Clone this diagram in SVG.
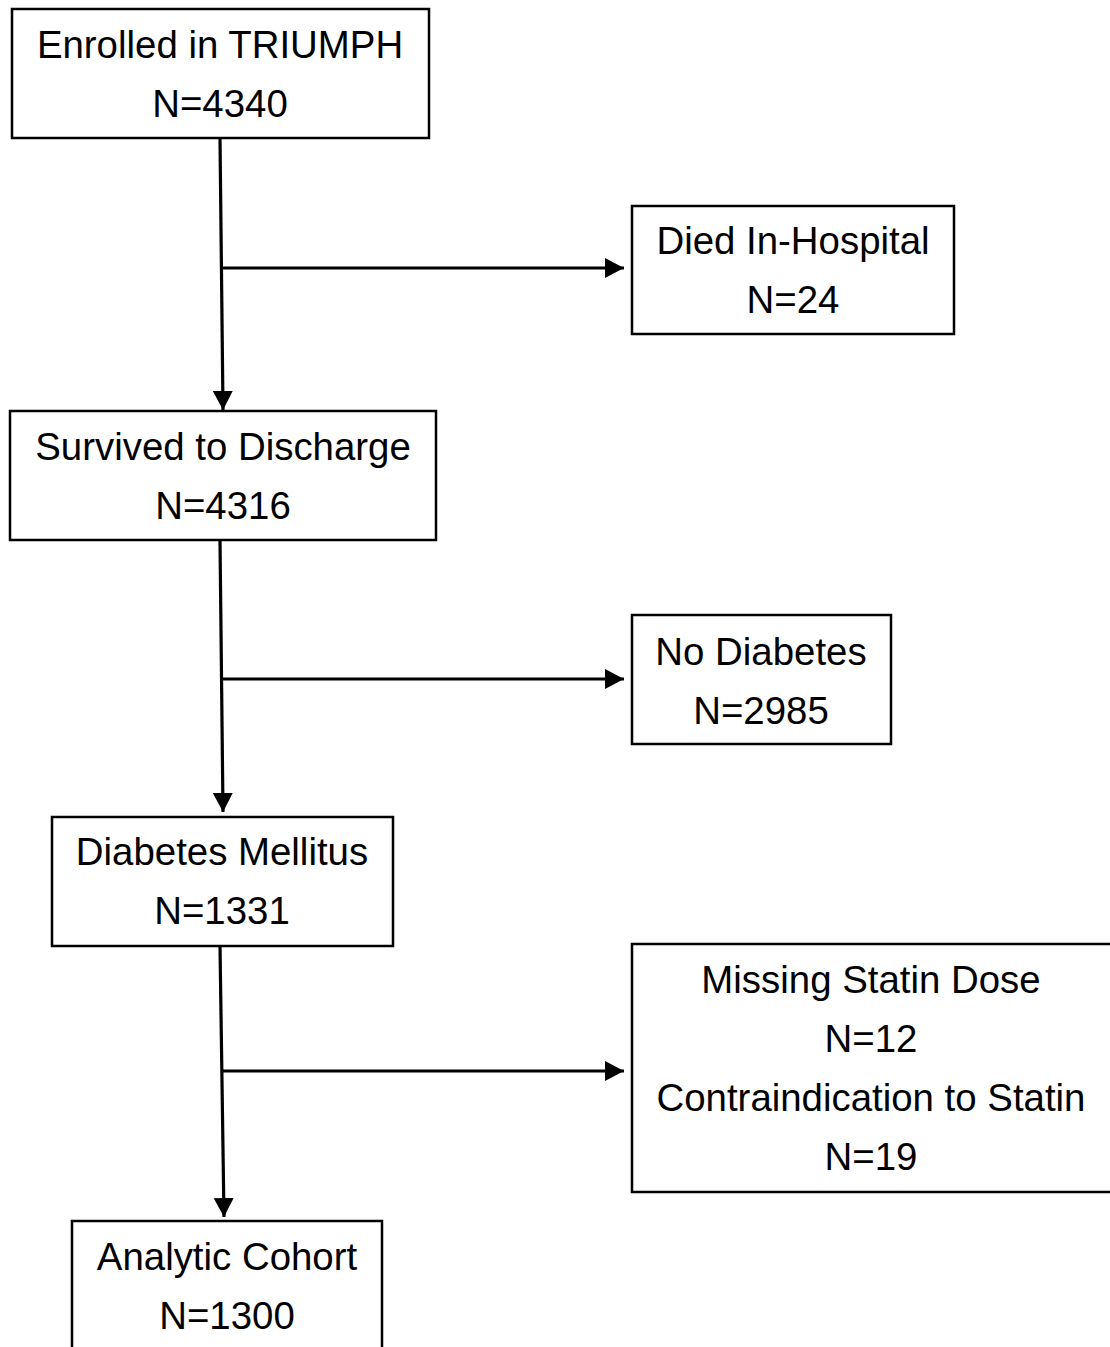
<svg xmlns="http://www.w3.org/2000/svg" width="1110" height="1347" viewBox="0 0 1110 1347">
<style>
.box{fill:#fff;stroke:#000;stroke-width:2.5}
.t{font-family:"Liberation Sans",Arial,sans-serif;font-size:38.4px;fill:#000;text-anchor:middle}
.c{stroke:#000;stroke-width:3.2;fill:none}
</style>
<defs>
<marker id="ah" markerUnits="userSpaceOnUse" markerWidth="22" markerHeight="22" refX="19" refY="10" orient="auto">
<path d="M0,0 L19,10 L0,20 Z" fill="#000"/>
</marker>
</defs>
<rect width="1110" height="1347" fill="#fff"/>
<g id="connectors">
<path class="c" d="M220,138 L223,410" marker-end="url(#ah)"/>
<path class="c" d="M221,268 L624,268" marker-end="url(#ah)"/>
<path class="c" d="M220,540 L223,812" marker-end="url(#ah)"/>
<path class="c" d="M221,679 L624,679" marker-end="url(#ah)"/>
<path class="c" d="M220,946 L224,1217" marker-end="url(#ah)"/>
<path class="c" d="M222,1071 L624,1071" marker-end="url(#ah)"/>
</g>
<g id="enrolled">
<rect class="box" x="12" y="9" width="417" height="129"/>
<text class="t" x="220" y="58">Enrolled in TRIUMPH</text>
<text class="t" x="220" y="117">N=4340</text>
</g>
<g id="died">
<rect class="box" x="632" y="206" width="322" height="128"/>
<text class="t" x="793" y="254">Died In-Hospital</text>
<text class="t" x="793" y="313">N=24</text>
</g>
<g id="survived">
<rect class="box" x="10" y="411" width="426" height="129"/>
<text class="t" x="223" y="460">Survived to Discharge</text>
<text class="t" x="223" y="519">N=4316</text>
</g>
<g id="nodiabetes">
<rect class="box" x="632" y="615" width="259" height="129"/>
<text class="t" x="761" y="665">No Diabetes</text>
<text class="t" x="761" y="724">N=2985</text>
</g>
<g id="diabetes">
<rect class="box" x="52" y="817" width="341" height="129"/>
<text class="t" x="222" y="865">Diabetes Mellitus</text>
<text class="t" x="222" y="924">N=1331</text>
</g>
<g id="excluded">
<rect class="box" x="632" y="944" width="480" height="248"/>
<text class="t" x="871" y="993">Missing Statin Dose</text>
<text class="t" x="871" y="1052">N=12</text>
<text class="t" x="871" y="1111">Contraindication to Statin</text>
<text class="t" x="871" y="1170">N=19</text>
</g>
<g id="analytic">
<rect class="box" x="72" y="1221" width="310" height="140"/>
<text class="t" x="227" y="1270">Analytic Cohort</text>
<text class="t" x="227" y="1329">N=1300</text>
</g>
</svg>
